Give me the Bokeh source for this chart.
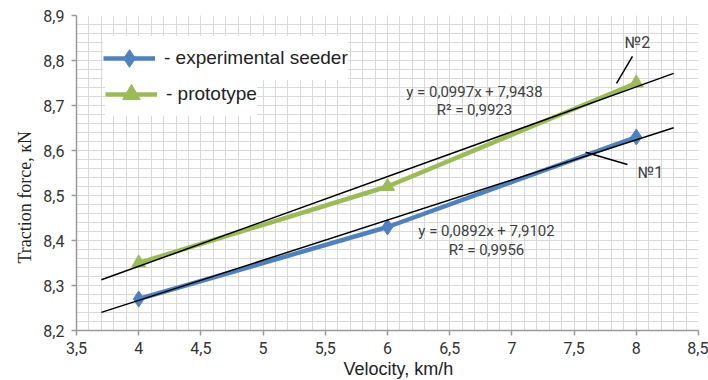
import numpy as np
from bokeh.plotting import figure
from bokeh.models import FixedTicker, Label, Legend, LegendItem, Range1d, Title
from bokeh.embed import file_html
from bokeh.resources import INLINE

# ---- data ----
velocity = [4, 6, 8]
experimental = [8.27, 8.43, 8.63]
prototype = [8.35, 8.52, 8.75]

x_ticks = [3.5, 4, 4.5, 5, 5.5, 6, 6.5, 7, 7.5, 8, 8.5]
x_tick_labels = ["3,5", "4", "4,5", "5", "5,5", "6", "6,5", "7", "7,5", "8", "8,5"]
y_ticks = [8.2, 8.3, 8.4, 8.5, 8.6, 8.7, 8.8, 8.9]
y_tick_labels = ["8,2", "8,3", "8,4", "8,5", "8,6", "8,7", "8,8", "8,9"]

trend_x = [3.7, 8.3]
trend1_coef = (0.0892, 7.9102)   # experimental seeder, No1
trend2_coef = (0.0997, 7.9438)   # prototype, No2
eq1_text = ["y = 0,0892x + 7,9102", "R\u00b2 = 0,9956"]
eq2_text = ["y = 0,0997x + 7,9438", "R\u00b2 = 0,9923"]

BLUE = "#4f81bd"
GREEN = "#9bbb59"
GRID = "#d9d9d9"
AXIS = "#9a9a9a"
NARROW = "Roboto"

p = figure(width=708, height=380, x_range=Range1d(3.5, 8.5), y_range=Range1d(8.2, 8.9),
           output_backend="svg", toolbar_location=None,
           min_border_left=76, min_border_right=10, min_border_top=15, min_border_bottom=50)
p.outline_line_color = None
p.background_fill_color = "white"

# grids
minor_x = [round(3.5 + 0.1 * i, 2) for i in range(51)]
minor_y = [round(8.2 + 0.02 * i, 2) for i in range(36)]
p.xgrid.ticker = FixedTicker(ticks=x_ticks, minor_ticks=minor_x)
p.ygrid.ticker = FixedTicker(ticks=y_ticks, minor_ticks=minor_y)
for g in (p.xgrid, p.ygrid):
    g.grid_line_color = GRID
    g.grid_line_width = 1
    g.minor_grid_line_color = GRID
    g.minor_grid_line_width = 1

# axes
p.xaxis.ticker = FixedTicker(ticks=x_ticks)
p.yaxis.ticker = FixedTicker(ticks=y_ticks)
p.xaxis.major_label_overrides = dict(zip(x_ticks, x_tick_labels))
p.yaxis.major_label_overrides = dict(zip(y_ticks, y_tick_labels))
for ax in (p.xaxis, p.yaxis):
    ax.axis_line_color = AXIS
    ax.axis_line_width = 1.5
    ax.major_tick_line_color = AXIS
    ax.major_tick_line_width = 1.5
    ax.major_tick_out = 5
    ax.major_tick_in = 0
    ax.minor_tick_line_color = None
    ax.major_label_text_font = NARROW
    ax.major_label_text_font_size = "16px"
    ax.major_label_text_color = "#333333"
p.xaxis.major_label_standoff = 6
p.yaxis.major_label_standoff = 7

# axis titles as side titles
p.add_layout(Title(text="Velocity, km/h", align="left", offset=267, standoff=0,
                   text_font="Liberation Sans", text_font_size="18px",
                   text_font_style="normal", text_color="#222222"), "below")
p.add_layout(Title(text="Traction force, \u043aN", align="left", offset=67, standoff=12,
                   text_font="Liberation Serif", text_font_size="18px",
                   text_font_style="normal", text_color="#222222"), "left")

# trend lines
t1 = [trend1_coef[0] * x + trend1_coef[1] for x in trend_x]
t2 = [trend2_coef[0] * x + trend2_coef[1] for x in trend_x]

# series
l1 = p.line(velocity, experimental, line_width=4.5, color=BLUE)
s1 = p.scatter(velocity, experimental, marker="diamond", size=16, color=BLUE)
l2 = p.line(velocity, prototype, line_width=4.5, color=GREEN)
s2 = p.scatter(velocity, prototype, marker="triangle", size=14, color=GREEN)

p.line(trend_x, t1, line_width=1.5, color="black")
p.line(trend_x, t2, line_width=1.5, color="black")

# leader lines for No1 / No2
p.segment(x0=[7.841, 7.592], y0=[8.749, 8.596], x1=[7.969, 7.929], y1=[8.809, 8.569],
          line_color="black", line_width=1.5)

def lab(x, y, text, size="15px", font=NARROW, color="#404040", angle=0.0):
    p.add_layout(Label(x=x, y=y, text=text, text_font=font, text_font_size=size,
                       text_color=color, text_align="center", text_baseline="middle",
                       angle=angle))

lab(8.01, 8.84, "\u21162", size="16px")
lab(8.114, 8.551, "\u21161", size="16px")
lab(6.699, 8.731, eq2_text[0])
lab(6.699, 8.689, eq2_text[1])
lab(6.796, 8.422, eq1_text[0])
lab(6.796, 8.378, eq1_text[1])

legend_style = dict(margin=0, padding=0, spacing=0,
                    glyph_width=52, glyph_height=44, label_height=44, label_standoff=9,
                    label_text_font="Liberation Sans", label_text_font_size="19px",
                    label_text_color="#222222", border_line_color=None,
                    background_fill_color="white", background_fill_alpha=1.0)
legend1 = Legend(items=[LegendItem(label="- experimental seeder", renderers=[l1, s1])],
                 location=(27, 250), **legend_style)
legend2 = Legend(items=[LegendItem(label="- prototype", renderers=[l2, s2])],
                 location=(29, 214), **legend_style)
p.add_layout(legend1)
p.add_layout(legend2)

open("out.html", "w").write(file_html(p, INLINE))
